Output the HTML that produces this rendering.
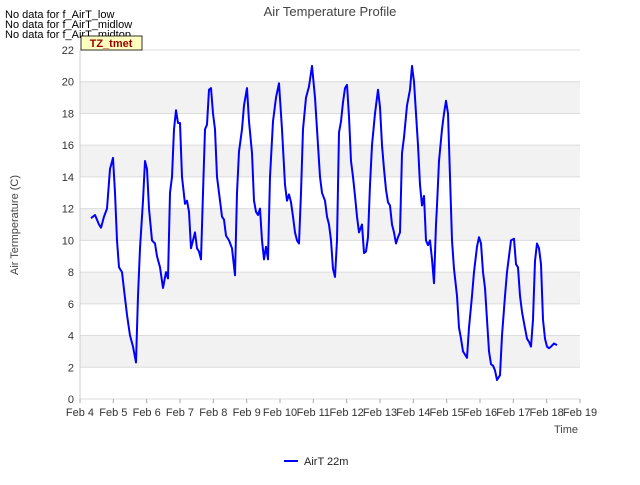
<!DOCTYPE html>
<html><head><meta charset="utf-8"><style>
body{margin:0;background:#fff;font-family:"Liberation Sans",sans-serif}
</style></head><body>
<svg id="chart" width="640" height="480" xmlns="http://www.w3.org/2000/svg" font-family="Liberation Sans, sans-serif">
<rect width="640" height="480" fill="#fff"/>
<g id="bands"></g><g id="grid"></g><g id="ticks"></g>
<path id="line" fill="none" stroke="#0000ff" stroke-width="2" stroke-linejoin="round"/>
<text x="330" y="16" text-anchor="middle" font-size="13" fill="#444">Air Temperature Profile</text>
<text x="5" y="18" font-size="11" fill="#000">No data for f_AirT_low</text>
<text x="5" y="28" font-size="11" fill="#000">No data for f_AirT_midlow</text>
<text x="5" y="38" font-size="11" fill="#000">No data for f_AirT_midtop</text>
<rect x="81" y="36" width="61" height="14" fill="#ffffc0" stroke="#000" stroke-width="0.8"/>
<text x="111" y="47" text-anchor="middle" font-size="11" font-weight="bold" fill="#990000">TZ_tmet</text>
<text transform="translate(18,225) rotate(-90)" text-anchor="middle" font-size="11" fill="#444">Air Termperature (C)</text>
<text x="566" y="433" text-anchor="middle" font-size="11" fill="#444">Time</text>
<line x1="284" y1="461" x2="298" y2="461" stroke="#0000ff" stroke-width="2"/>
<text x="304" y="465" font-size="11" fill="#222">AirT 22m</text>
</svg>
<script>
const yTicks=[0,2,4,6,8,10,12,14,16,18,20,22];
const xTickLabels=["Feb 4","Feb 5","Feb 6","Feb 7","Feb 8","Feb 9","Feb 10","Feb 11","Feb 12","Feb 13","Feb 14","Feb 15","Feb 16","Feb 17","Feb 18","Feb 19"];
const times=[0.33,0.45,0.57,0.63,0.72,0.81,0.90,0.99,1.05,1.11,1.17,1.26,1.32,1.41,1.50,1.59,1.68,1.74,1.80,1.89,1.95,2.01,2.07,2.16,2.25,2.31,2.40,2.49,2.58,2.64,2.70,2.76,2.82,2.88,2.94,3.00,3.06,3.15,3.21,3.27,3.33,3.39,3.45,3.51,3.57,3.63,3.69,3.75,3.81,3.87,3.93,3.99,4.05,4.11,4.17,4.26,4.32,4.38,4.47,4.56,4.65,4.71,4.77,4.86,4.92,5.01,5.07,5.16,5.22,5.28,5.34,5.40,5.46,5.52,5.58,5.64,5.70,5.79,5.88,5.97,6.06,6.15,6.21,6.27,6.33,6.39,6.45,6.51,6.57,6.63,6.69,6.78,6.87,6.96,7.05,7.14,7.20,7.26,7.35,7.41,7.47,7.53,7.59,7.65,7.71,7.77,7.83,7.89,7.95,8.01,8.07,8.13,8.19,8.25,8.31,8.37,8.46,8.52,8.58,8.64,8.70,8.76,8.85,8.94,9.00,9.06,9.12,9.18,9.24,9.30,9.36,9.42,9.48,9.54,9.60,9.66,9.72,9.81,9.90,9.96,10.02,10.08,10.14,10.20,10.26,10.32,10.38,10.44,10.50,10.56,10.62,10.68,10.71,10.77,10.86,10.92,10.98,11.04,11.10,11.16,11.22,11.31,11.37,11.43,11.49,11.55,11.61,11.67,11.76,11.82,11.91,11.97,12.03,12.09,12.15,12.21,12.27,12.33,12.39,12.45,12.51,12.60,12.66,12.75,12.81,12.87,12.93,13.02,13.08,13.14,13.20,13.26,13.32,13.41,13.47,13.53,13.59,13.65,13.71,13.77,13.83,13.89,13.95,14.01,14.07,14.13,14.22,14.31];
const airT22m=[11.4,11.6,11.0,10.8,11.5,12.0,14.5,15.2,13,10,8.3,8.0,6.9,5.3,4.0,3.3,2.3,6.5,9.5,12.5,15.0,14.5,12,10,9.8,9.0,8.3,7.0,8.0,7.6,13,14,17,18.2,17.4,17.4,14,12.3,12.5,11.8,9.5,10,10.5,9.5,9.3,8.8,13,17,17.3,19.5,19.6,18,17,14,13,11.5,11.3,10.3,10,9.5,7.8,13,15.6,17,18.5,19.6,17.5,15.5,12.5,11.8,11.6,12,10,8.8,9.6,8.8,14,17.5,19,19.9,17,13.5,12.5,12.9,12.4,11.5,10.5,10,9.8,13,17,19,19.7,21,19,16,14,13,12.5,11.5,11,10,8.2,7.7,10,16.8,17.5,18.7,19.6,19.8,17.8,15,14,12.8,11.5,10.5,11,9.2,9.3,10.2,13.5,16,18,19.5,18.4,16,14.5,13.2,12.4,12.2,11,10.5,9.8,10.2,10.5,15.5,16.5,18.5,19.5,21,20,18,16,13.5,12.2,12.8,10,9.7,10,8.8,7.3,11,12.2,15,17,18,18.8,18,14,10,8.2,6.5,4.5,3.8,3.0,2.8,2.6,4.5,6.5,8,9.6,10.2,9.8,8,7,5,3,2.2,2.1,1.8,1.2,1.5,4,6.5,8,9,10,10.1,8.5,8.3,6.5,5.5,4.8,3.8,3.6,3.3,5,8.7,9.8,9.5,8.5,5,3.8,3.3,3.2,3.3,3.5,3.4];
const X0=80,X1=580,Y0=399,Y1=50,NS='http://www.w3.org/2000/svg';
const xs=t=>X0+t*(X1-X0)/15;
const ys=v=>Y0-v*(Y0-Y1)/22;
function mk(tag,attrs,parent){const e=document.createElementNS(NS,tag);for(const k in attrs)e.setAttribute(k,attrs[k]);document.getElementById(parent).appendChild(e);return e;}
for(let i=0;i<yTicks.length-1;i++){
  if(i%2===1){const r=mk('rect',{x:X0,y:ys(yTicks[i+1]),width:X1-X0,height:ys(yTicks[i])-ys(yTicks[i+1]),fill:'#f2f2f2'},'bands');
  
  }
}
yTicks.forEach(v=>{
  const l=mk('line',{x1:X0,x2:X1,y1:ys(v),y2:ys(v),stroke:'#dcdcdc','stroke-width':1},'grid');
  
  
  const t=mk('text',{x:X0-6,y:ys(v)+4,'text-anchor':'end','font-size':11,fill:'#333'},'ticks');
  
  
  t.textContent=v;
});
xTickLabels.forEach((s,i)=>{
  const l=mk('line',{x1:xs(i),x2:xs(i),y1:Y0,y2:Y0+4,stroke:'#aaa'},'grid');
  
  
  const t=mk('text',{x:xs(i),y:Y0+17,'text-anchor':'middle','font-size':11,fill:'#333'},'ticks');
  
  
  t.textContent=s;
});
const ax=mk('line',{x1:X0,x2:X0,y1:Y1,y2:Y0,stroke:'#ccc'},'grid');


document.getElementById('line').setAttribute('d',times.map((t,i)=>(i?'L':'M')+xs(t).toFixed(1)+','+ys(airT22m[i]).toFixed(1)).join(''));
</script>
</body></html>
